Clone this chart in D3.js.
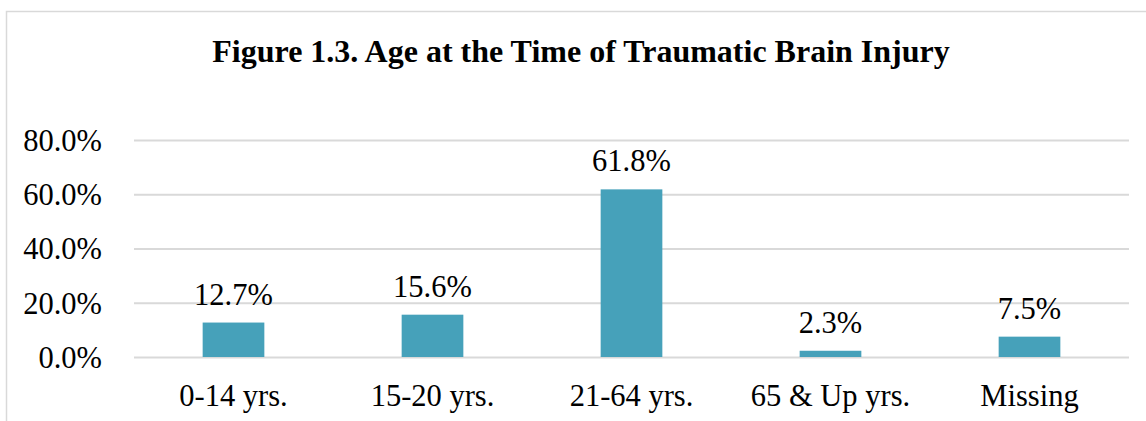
<!DOCTYPE html>
<html>
<head>
<meta charset="utf-8">
<script src="https://cdn.jsdelivr.net/npm/d3@7"></script>
<style>
  body { margin: 0; background: #fff; }
  text { font-family: "Liberation Serif", "Times New Roman", serif; fill: #000; }
</style>
</head>
<body>
<div id="chart-area"></div>
<script>
// Age at time of TBI - bar chart

const categories = ["0-14 yrs.", "15-20 yrs.", "21-64 yrs.", "65 & Up yrs.", "Missing"]
const values = [12.7, 15.6, 61.8, 2.3, 7.5]
const yTicks = [0, 20, 40, 60, 80]
const title = "Figure 1.3. Age at the Time of Traumatic Brain Injury"

const W = 1146, H = 421
const PLOT = { LEFT: 134, RIGHT: 1129, TOP: 140, BOTTOM: 357 }
const FONT = "30.5px"

const svg = d3.select("#chart-area").append("svg")
    .attr("width", W)
    .attr("height", H)

// outer chart border (right/bottom edges run off the picture)
svg.append("rect")
    .attr("x", 6.5)
    .attr("y", 11.5)
    .attr("width", W + 20)
    .attr("height", H + 20)
    .attr("fill", "none")
    .attr("stroke", "#d9d9d9")
    .attr("stroke-width", 1.5)

svg.append("text")
    .attr("x", 581)
    .attr("y", 62)
    .attr("text-anchor", "middle")
    .attr("font-size", "32px")
    .attr("font-weight", "bold")
    .text(title)

const x = d3.scaleBand()
    .domain(categories)
    .range([PLOT.LEFT, PLOT.RIGHT])
    .paddingInner(0.69)
    .paddingOuter(0.345)

const y = d3.scaleLinear()
    .domain([0, 80])
    .range([PLOT.BOTTOM, PLOT.TOP])

// gridlines + y labels
const yAxis = d3.axisLeft(y)
    .tickValues(yTicks)
    .tickSize(-(PLOT.RIGHT - PLOT.LEFT))
    .tickPadding(32)
    .tickFormat(d => d.toFixed(1) + "%")

const yg = svg.append("g")
    .attr("transform", `translate(${PLOT.LEFT},0)`)
    .call(yAxis)
yg.select(".domain").remove()
yg.selectAll(".tick line").attr("stroke", "#d9d9d9").attr("stroke-width", 2)
yg.selectAll(".tick text")
    .attr("font-size", FONT)
    .attr("font-family", null)
    .attr("dy", "0.34em")

// x labels
const xAxis = d3.axisBottom(x).tickSize(0).tickPadding(0)
const xg = svg.append("g")
    .attr("transform", `translate(0,${PLOT.BOTTOM})`)
    .call(xAxis)
xg.select(".domain").remove()
xg.selectAll(".tick text")
    .attr("font-size", FONT)
    .attr("font-family", null)
    .attr("dy", null)
    .attr("y", 49)

// bars
svg.selectAll("rect.bar")
    .data(values)
    .enter().append("rect")
    .attr("class", "bar")
    .attr("x", (d, i) => x(categories[i]))
    .attr("y", d => y(d))
    .attr("width", x.bandwidth())
    .attr("height", d => y(0) - y(d))
    .attr("fill", "#46a1ba")

// value labels
svg.selectAll("text.val")
    .data(values)
    .enter().append("text")
    .attr("class", "val")
    .attr("x", (d, i) => x(categories[i]) + x.bandwidth() / 2)
    .attr("y", d => y(d) - 18)
    .attr("text-anchor", "middle")
    .attr("font-size", FONT)
    .text(d => d.toFixed(1) + "%")
</script>
</body>
</html>
